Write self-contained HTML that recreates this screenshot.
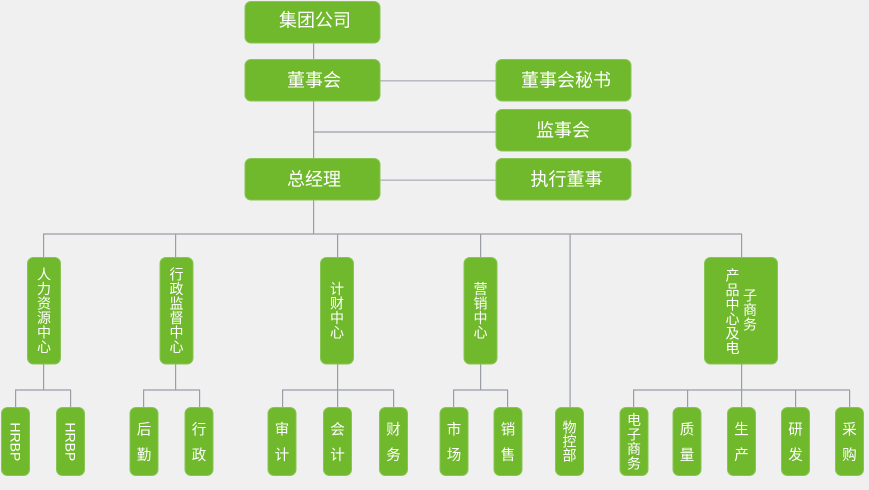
<!DOCTYPE html>
<html><head><meta charset="utf-8">
<style>
html,body{margin:0;padding:0;background:#f0f0f0;}
svg{display:block;}
text{font-family:"Liberation Sans","Noto Sans CJK SC",sans-serif;fill:#fff;}
</style></head>
<body>
<svg width="869" height="490" viewBox="0 0 869 490" xmlns="http://www.w3.org/2000/svg">
<rect width="869" height="490" fill="#f0f0f0"/>
<g fill="#b9bcc5">
  <rect x="380" y="80" width="116" height="1.6"/>
  <rect x="313" y="131" width="183" height="2"/>
  <rect x="380" y="179.4" width="116" height="1.6"/>
  <rect x="43" y="233" width="699" height="2"/>
  <rect x="15" y="389" width="56" height="2"/>
  <rect x="143" y="389" width="57" height="2"/>
  <rect x="282" y="389" width="112" height="2"/>
  <rect x="453" y="389" width="55" height="2"/>
  <rect x="633" y="389" width="217" height="2"/>
</g>
<g fill="#989da8">
  <rect x="313" y="43" width="1.2" height="191"/>
  <rect x="43" y="234" width="1.2" height="23"/>
  <rect x="175" y="234" width="1.2" height="23"/>
  <rect x="337" y="234" width="1.2" height="23"/>
  <rect x="480" y="234" width="1.2" height="23"/>
  <rect x="569.5" y="234" width="1.2" height="173"/>
  <rect x="741" y="234" width="1.2" height="23"/>
  <rect x="43" y="364" width="1.2" height="26"/>
  <rect x="15" y="390" width="1.2" height="17"/>
  <rect x="70" y="390" width="1.2" height="17"/>
  <rect x="175" y="364" width="1.2" height="26"/>
  <rect x="143" y="390" width="1.2" height="17"/>
  <rect x="199" y="390" width="1.2" height="17"/>
  <rect x="337" y="364" width="1.2" height="43"/>
  <rect x="282" y="390" width="1.2" height="17"/>
  <rect x="393" y="390" width="1.2" height="17"/>
  <rect x="480" y="364" width="1.2" height="26"/>
  <rect x="453" y="390" width="1.2" height="17"/>
  <rect x="507" y="390" width="1.2" height="17"/>
  <rect x="741" y="364" width="1.2" height="43"/>
  <rect x="633" y="390" width="1.2" height="17"/>
  <rect x="687" y="390" width="1.2" height="17"/>
  <rect x="795" y="390" width="1.2" height="17"/>
  <rect x="849" y="390" width="1.2" height="17"/>
</g>
<g fill="#70b92c" stroke="#88c555" stroke-width="1">
  <rect x="245" y="1.5" width="135" height="41.5" rx="6"/>
  <rect x="245" y="59.5" width="135" height="41.5" rx="6"/>
  <rect x="245" y="158.5" width="135" height="41.5" rx="6"/>
  <rect x="496" y="59.5" width="135" height="41.5" rx="6"/>
  <rect x="496" y="109.5" width="135" height="41.5" rx="6"/>
  <rect x="496" y="158.5" width="135" height="41.5" rx="6"/>
  <rect x="27.5" y="257.5" width="33" height="106.5" rx="6"/>
  <rect x="160" y="257.5" width="33" height="106.5" rx="6"/>
  <rect x="320.5" y="257.5" width="33" height="106.5" rx="6"/>
  <rect x="464" y="257.5" width="33" height="106.5" rx="6"/>
  <rect x="704.5" y="257.5" width="73" height="106.5" rx="6"/>
  <rect x="1.5" y="407.5" width="28" height="68" rx="6"/>
  <rect x="56.5" y="407.5" width="28" height="68" rx="6"/>
  <rect x="130" y="407.5" width="28" height="68" rx="6"/>
  <rect x="185" y="407.5" width="28" height="68" rx="6"/>
  <rect x="268" y="407.5" width="28" height="68" rx="6"/>
  <rect x="323.5" y="407.5" width="28" height="68" rx="6"/>
  <rect x="379.5" y="407.5" width="28" height="68" rx="6"/>
  <rect x="440" y="407.5" width="28" height="68" rx="6"/>
  <rect x="494" y="407.5" width="28" height="68" rx="6"/>
  <rect x="555.5" y="407.5" width="28" height="68" rx="6"/>
  <rect x="620" y="407.5" width="28" height="68" rx="6"/>
  <rect x="673" y="407.5" width="28" height="68" rx="6"/>
  <rect x="727.5" y="407.5" width="28" height="68" rx="6"/>
  <rect x="781.5" y="407.5" width="28" height="68" rx="6"/>
  <rect x="835.5" y="407.5" width="28" height="68" rx="6"/>
</g>
<g font-size="18" text-anchor="middle">
  <text x="315" y="26.5">集团公司</text>
  <text x="314" y="86.5">董事会</text>
  <text x="314" y="185.5">总经理</text>
  <text x="566" y="86.5">董事会秘书</text>
  <text x="563" y="136.5">监事会</text>
  <text x="566.5" y="185.5">执行董事</text>
</g>
<g font-size="14" text-anchor="middle">
  <!-- 人力资源中心 center x 44 -->
  <text x="44" y="279.5">人</text><text x="44" y="294">力</text><text x="44" y="308.5">资</text><text x="44" y="323">源</text><text x="44" y="337.5">中</text><text x="44" y="352">心</text>
  <!-- 行政监督中心 -->
  <text x="176.5" y="279.5">行</text><text x="176.5" y="294">政</text><text x="176.5" y="308.5">监</text><text x="176.5" y="323">督</text><text x="176.5" y="337.5">中</text><text x="176.5" y="352">心</text>
  <!-- 计财中心 -->
  <text x="337" y="294">计</text><text x="337" y="308.5">财</text><text x="337" y="323">中</text><text x="337" y="337.5">心</text>
  <!-- 营销中心 -->
  <text x="480.5" y="294">营</text><text x="480.5" y="308.5">销</text><text x="480.5" y="323">中</text><text x="480.5" y="337.5">心</text>
  <!-- 产品中心及电 / 子商务 -->
  <text x="732.5" y="280.5">产</text><text x="732.5" y="295">品</text><text x="732.5" y="309.5">中</text><text x="732.5" y="324">心</text><text x="732.5" y="338.5">及</text><text x="732.5" y="353">电</text>
  <text x="750" y="300.5">子</text><text x="750" y="315">商</text><text x="750" y="329.5">务</text>
  <!-- 物控部 -->
  <text x="569.5" y="432.5">物</text><text x="569.5" y="446.5">控</text><text x="569.5" y="460.5">部</text>
  <!-- 电子商务 -->
  <text x="634" y="425">电</text><text x="634" y="439.5">子</text><text x="634" y="454">商</text><text x="634" y="468.5">务</text>
</g>
<g font-size="14.5" text-anchor="middle">
  <text x="144" y="434.5">后</text><text x="144" y="460">勤</text>
  <text x="199" y="434.5">行</text><text x="199" y="460">政</text>
  <text x="282" y="434.5">审</text><text x="282" y="460">计</text>
  <text x="337.5" y="434.5">会</text><text x="337.5" y="460">计</text>
  <text x="393.5" y="434.5">财</text><text x="393.5" y="460">务</text>
  <text x="454" y="434.5">市</text><text x="454" y="460">场</text>
  <text x="508" y="434.5">销</text><text x="508" y="460">售</text>
  <text x="687" y="434.5">质</text><text x="687" y="460">量</text>
  <text x="741.5" y="434.5">生</text><text x="741.5" y="460">产</text>
  <text x="795.5" y="434.5">研</text><text x="795.5" y="460">发</text>
  <text x="849.5" y="434.5">采</text><text x="849.5" y="460">购</text>
</g>
<g font-size="14" text-anchor="middle">
  <text x="0" y="0" transform="translate(10.5,441.8) rotate(90)">HRBP</text>
  <text x="0" y="0" transform="translate(65.5,441.8) rotate(90)">HRBP</text>
</g>
</svg>
</body></html>
